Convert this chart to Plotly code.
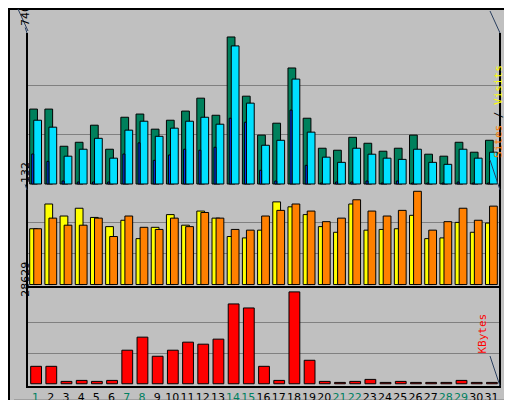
import plotly.graph_objects as go

days = list(range(1, 32))
hits = [377,377,190,210,296,175,336,352,276,321,367,432,346,740,442,246,306,584,331,180,170,235,205,165,180,246,150,140,210,160,220]
files = [321,286,140,175,230,130,271,316,240,281,316,336,301,695,407,195,220,528,261,135,109,180,150,130,124,175,109,99,175,130,160]
pages = [151,114,15,10,10,10,151,207,119,146,175,170,185,331,311,69,15,372,94,5,10,10,15,5,15,5,5,5,10,5,5]
visits = [79,114,97,108,95,82,91,65,81,99,84,104,94,68,66,77,117,110,99,82,74,114,77,78,79,98,65,66,88,74,87]
sites = [79,94,84,84,94,68,97,81,78,94,82,102,94,78,77,97,105,114,104,89,94,120,104,97,105,132,77,89,108,91,111]
kbytes = [5434,5434,731,1045,731,1045,10450,14525,8569,10450,12958,12331,13898,24871,23617,5434,1045,28629,7315,731,418,731,1358,418,731,418,418,418,1045,418,418]
weekend = {1,7,8,14,15,21,22,28,29}
ticktext = [f"<span style='color:#008060'>{d}</span>" if d in weekend else str(d) for d in days]

line = dict(color="black", width=1)
fig = go.Figure()
def bar(y, color, off, w, ax):
    fig.add_trace(go.Bar(x=days, y=y, offset=off, width=w, marker=dict(color=color, line=line),
                         xaxis="x", yaxis=ax, showlegend=False, cliponaxis=False))
bar(hits, "#00805C", -0.389, 0.511, "y")
bar(files, "#00E0FF", -0.122, 0.511, "y")
bar(pages, "#0040FF", -0.256, 0.133, "y")
bar(visits, "#FFFF00", -0.389, 0.511, "y2")
bar(sites, "#FF8000", -0.122, 0.511, "y2")
bar(kbytes, "#FF0000", -0.322, 0.711, "y3")

def yax(dom, rng, top):
    return dict(domain=dom, range=rng, tickvals=[top/3, 2*top/3], showticklabels=False,
                showgrid=True, gridcolor="#808080", gridwidth=1, zeroline=False, anchor="x",
                showline=True, mirror=True, linecolor="black", linewidth=2, ticks="", fixedrange=True)

fig.update_layout(
    width=512, height=400, margin=dict(l=20, r=21, t=25, b=22, autoexpand=False),
    paper_bgcolor="#C0C0C0", plot_bgcolor="#C0C0C0", barmode="overlay",
    font=dict(family="DejaVu Sans", size=11, color="black"),
    xaxis=dict(range=[0.5, 31.5], tickvals=days, ticktext=ticktext, showgrid=False, zeroline=False,
               showline=True, mirror=True, linecolor="black", linewidth=2, ticks="", anchor="y3",
               tickangle=0, tickfont=dict(size=11), fixedrange=True),
    yaxis=yax([0.561, 1.0], [-20, 760], 740),
    yaxis2=yax([0.278, 0.561], [-4.7, 136.7], 132),
    yaxis3=yax([0.0, 0.278], [-700, 29880], 28629),
)

mono = "DejaVu Sans Mono"
ann = [
    dict(x=0, y=1, xref="paper", yref="paper", xanchor="left", yanchor="bottom", yshift=2,
         text="<b>Daily usage for March 2026</b>", font=dict(family=mono, size=12, color="#0000FF")),
    dict(x=0, y=1, xref="paper", yref="paper", xanchor="right", yanchor="top", xshift=-1, textangle=-90,
         text=str(max(hits))),
    dict(x=0, y=0.561, xref="paper", yref="paper", xanchor="right", yanchor="top", xshift=-1, yshift=-2,
         textangle=-90, text=str(max(sites))),
    dict(x=0, y=0.278, xref="paper", yref="paper", xanchor="right", yanchor="top", xshift=-1, yshift=-2,
         textangle=-90, text=str(max(kbytes))),
    dict(x=1, y=1, xref="paper", yref="paper", xanchor="left", yanchor="top", xshift=1, textangle=-90,
         font=dict(family=mono, size=11),
         text="<span style='color:#00E0FF'>Pages</span> / <span style='color:#0040FF'>Files</span> / <span style='color:#008060'>Hits</span>"),
    dict(x=1, y=0.561, xref="paper", yref="paper", xanchor="left", yanchor="top", xshift=1, yshift=-2,
         textangle=-90, font=dict(family=mono, size=11),
         text="<span style='color:#FF8000'>Sites</span> / <span style='color:#FFFF00'>Visits</span>"),
    dict(x=1, y=0.0, xref="paper", yref="paper", xanchor="left", yanchor="bottom", xshift=1,
         textangle=-90, font=dict(family=mono, size=11), text="<span style='color:#FF0000'>KBytes</span>"),
]
fig.update_layout(annotations=ann)
# outer 3D frame
fig.add_shape(type="rect", xref="paper", yref="paper", x0=-19/471, x1=1+20/471, y0=-21/353, y1=1+24/353,
              line=dict(color="black", width=2), fillcolor="rgba(0,0,0,0)", layer="below")
fig.add_shape(type="line", xref="paper", yref="paper", x0=1+15/471, x1=1+15/471, y0=-16/353, y1=1+19/353,
              line=dict(color="#808080", width=5), layer="below")
fig.add_shape(type="line", xref="paper", yref="paper", x0=-14/471, x1=1+17/471, y0=-16/353, y1=-16/353,
              line=dict(color="#808080", width=5), layer="below")
fig.write_html("out.html")
